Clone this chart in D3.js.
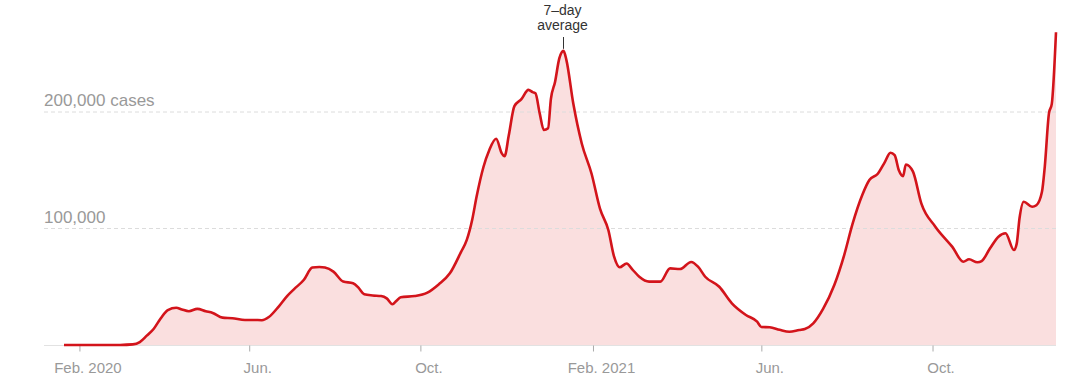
<!DOCTYPE html>
<html>
<head>
<meta charset="utf-8">
<script src="https://cdn.jsdelivr.net/npm/d3@7"></script>
<style>
  html, body { margin: 0; padding: 0; background: #fff; }
  svg { display: block; font-family: "Liberation Sans", Arial, Helvetica, sans-serif; }
</style>
</head>
<body>
<svg id="chart" width="1080" height="385"></svg>
<script>
const dates = [
  "2020-01-21","2020-02-15","2020-03-01","2020-03-10","2020-03-15","2020-03-20","2020-03-25","2020-03-30",
  "2020-04-04","2020-04-10","2020-04-14","2020-04-19","2020-04-25","2020-05-01","2020-05-06","2020-05-13",
  "2020-05-20","2020-05-29","2020-06-04","2020-06-10","2020-06-15","2020-06-22","2020-06-28","2020-07-03",
  "2020-07-10","2020-07-16","2020-07-21","2020-07-25","2020-07-31","2020-08-07","2020-08-14","2020-08-18",
  "2020-08-22","2020-08-28","2020-09-03","2020-09-07","2020-09-11","2020-09-14","2020-09-17","2020-09-27",
  "2020-10-06","2020-10-14","2020-10-22","2020-10-30","2020-11-03","2020-11-07","2020-11-10","2020-11-15",
  "2020-11-19","2020-11-24","2020-11-28","2020-11-30","2020-12-03","2020-12-07","2020-12-12","2020-12-17",
  "2020-12-20","2020-12-22","2020-12-25","2020-12-28","2020-12-31","2021-01-02","2021-01-05","2021-01-08",
  "2021-01-11","2021-01-13","2021-01-18","2021-01-24","2021-01-31","2021-02-06","2021-02-12","2021-02-16",
  "2021-02-20","2021-02-25","2021-03-01","2021-03-06","2021-03-13","2021-03-21","2021-03-28","2021-04-04",
  "2021-04-12","2021-04-17","2021-04-22","2021-05-02","2021-05-11","2021-05-21","2021-05-29","2021-06-01",
  "2021-06-07","2021-06-14","2021-06-21","2021-06-28","2021-07-02","2021-07-08","2021-07-15","2021-07-23",
  "2021-07-30","2021-08-05","2021-08-12","2021-08-17","2021-08-23","2021-08-28","2021-09-01","2021-09-04",
  "2021-09-07","2021-09-10","2021-09-12","2021-09-17","2021-09-23","2021-10-03","2021-10-15","2021-10-23",
  "2021-10-27","2021-11-02","2021-11-05","2021-11-11","2021-11-17","2021-11-22","2021-11-28","2021-11-30",
  "2021-12-02","2021-12-05","2021-12-11","2021-12-14","2021-12-18","2021-12-20","2021-12-23","2021-12-25",
  "2021-12-28"
];
const cases = [
  0, 0, 50, 500, 2500, 8000, 14000, 23000,
  30000, 32000, 30500, 29000, 31000, 29000, 27500, 23500,
  23000, 21500, 21500, 21300, 24000, 33000, 42000, 48000,
  56000, 66500, 67000, 66500, 63000, 54500, 53000, 49000,
  43500, 42500, 42000, 40000, 35000, 38000, 41000, 42000,
  45000, 52000, 61500, 80000, 90000, 108000, 127000, 153000,
  167000, 177000, 164500, 162000, 180000, 205000, 211000, 219000,
  217000, 216000, 199000, 184500, 186000, 211000, 226000, 246000,
  252500, 245000, 207000, 173000, 147000, 117000, 98500, 76000,
  66700, 70000, 65000, 58600, 54400, 54400, 65800, 65200,
  71300, 67000, 58600, 50000, 35800, 25800, 20000, 15500,
  15200, 13000, 11400, 12900, 13700, 18600, 31000, 51500,
  77000, 104000, 129000, 141600, 147000, 157000, 165000, 163000,
  150000, 145000, 155000, 149000, 121600, 101600, 84400, 71500,
  73600, 71000, 72000, 83000, 93000, 95900, 81500, 87000,
  108800, 123000, 118700, 120000, 131600, 153000, 199000, 207000,
  268500
];
const tickDates = ["2020-02-01","2020-06-01","2020-10-01","2021-02-01","2021-06-01","2021-10-01"];
const tickLabels = ["Feb. 2020","Jun.","Oct.","Feb. 2021","Jun.","Oct."];
const gridValues = [100000, 200000];
const gridLabels = ["100,000", "200,000 cases"];
const annotationLines = ["7\u2013day", "average"];
const annotationDate = "2021-01-11";

const parse = d3.timeParse("%Y-%m-%d");
const data = dates.map((d, i) => ({ date: parse(d), value: cases[i] }));

const svg = d3.select("#chart");
const plotLeft = 44, plotRight = 1056;

const x = d3.scaleTime()
  .domain([parse(dates[0]), parse(dates[dates.length - 1])])
  .range([64, 1056]);
const y = d3.scaleLinear().domain([0, 200000]).range([345, 112]);

// area
const area = d3.area()
  .x(d => x(d.date)).y0(y(0)).y1(d => y(d.value))
  .curve(d3.curveMonotoneX);
svg.append("path").datum(data)
  .attr("d", area).attr("fill", "#fadfdf");

// gridlines
const grid = svg.append("g");
grid.selectAll("line").data(gridValues).join("line")
  .attr("x1", plotLeft).attr("x2", plotRight)
  .attr("y1", d => y(d)).attr("y2", d => y(d))
  .attr("stroke", "#dcdcdc").attr("stroke-width", 1)
  .attr("stroke-dasharray", "4,3");
grid.selectAll("text").data(gridValues).join("text")
  .attr("x", plotLeft).attr("y", d => y(d) - 6)
  .attr("fill", "#999").attr("font-size", 17)
  .text((d, i) => gridLabels[i]);

// baseline
svg.append("line")
  .attr("x1", plotLeft).attr("x2", plotRight)
  .attr("y1", y(0) + 0.5).attr("y2", y(0) + 0.5)
  .attr("stroke", "#e2e2e2").attr("stroke-width", 1);

// x axis
const xAxis = d3.axisBottom(x)
  .tickValues(tickDates.map(parse))
  .tickSize(6)
  .tickFormat((d, i) => tickLabels[i]);
const gx = svg.append("g").attr("transform", `translate(0,${y(0) + 0.5})`).call(xAxis);
gx.select(".domain").remove();
gx.selectAll(".tick line").attr("stroke", "#aaa");
gx.selectAll(".tick text")
  .attr("fill", "#999").attr("font-size", 15)
  .attr("font-family", "'Liberation Sans', Arial, sans-serif")
  .attr("dx", 8).attr("y", 17);

// line
const line = d3.line()
  .x(d => x(d.date)).y(d => y(d.value))
  .curve(d3.curveMonotoneX);
svg.append("path").datum(data)
  .attr("d", line).attr("fill", "none")
  .attr("stroke", "#d3141b").attr("stroke-width", 2.6)
  .attr("stroke-linejoin", "round");

// annotation
const ad = parse(annotationDate);
const adVal = cases[dates.indexOf(annotationDate)];
const ax = x(ad);
svg.append("line")
  .attr("x1", ax).attr("x2", ax)
  .attr("y1", 37).attr("y2", y(adVal) - 2)
  .attr("stroke", "#333").attr("stroke-width", 1);
svg.append("g").selectAll("text").data(annotationLines).join("text")
  .attr("x", ax - 1).attr("y", (d, i) => 15 + i * 14.5)
  .attr("text-anchor", "middle")
  .attr("fill", "#333").attr("font-size", 14)
  .text(d => d);
</script>
</body>
</html>
